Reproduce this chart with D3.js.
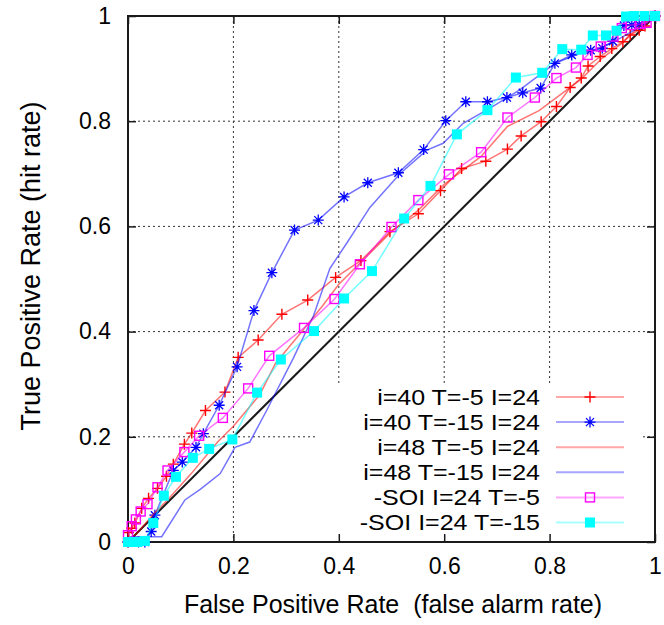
<!DOCTYPE html>
<html><head><meta charset="utf-8">
<script src="https://cdn.jsdelivr.net/npm/d3@7"></script>
<style>
body{margin:0;background:#fff}
svg{display:block}
text{font-family:"Liberation Sans",Arial,Helvetica,sans-serif;fill:#000;white-space:pre}
</style>
</head><body>
<svg id="chart" width="664" height="625"></svg>
<script>
// ---------- data ----------
const tickValues = [0, 0.2, 0.4, 0.6, 0.8, 1];
const tickLabels = ["0", "0.2", "0.4", "0.6", "0.8", "1"];
const gridValues = [0.2, 0.4, 0.6, 0.8];
const xTitle = "False Positive Rate  (false alarm rate)";
const yTitle = "True Positive Rate (hit rate)";
const seriesNames = ["i=40 T=-5 I=24", "i=40 T=-15 I=24", "i=48 T=-5 I=24", "i=48 T=-15 I=24", "-SOI I=24 T=-5", "-SOI I=24 T=-15"];
const seriesColors = ["#ff0000", "#0000ff", "#ff0000", "#0000ff", "#ff00ff", "#00ffff"];
const seriesMarkers = ["plus", "star", "none", "none", "square", "filled"];

const i40T5 = [[0,0],[0.001,0.018],[0.007,0.026],[0.013,0.036],[0.026,0.064],[0.039,0.083],[0.056,0.102],[0.073,0.125],[0.086,0.148],[0.107,0.186],[0.121,0.207],[0.147,0.250],[0.184,0.285],[0.209,0.351],[0.247,0.384],[0.292,0.433],[0.341,0.460],[0.394,0.503],[0.442,0.535],[0.497,0.590],[0.551,0.624],[0.593,0.668],[0.633,0.710],[0.679,0.724],[0.720,0.747],[0.746,0.772],[0.784,0.799],[0.813,0.828],[0.839,0.864],[0.860,0.882],[0.873,0.905],[0.896,0.923],[0.918,0.938],[0.939,0.951],[0.953,0.964],[0.970,0.973],[0.981,0.981],[1,1]];
const i40T15 = [[0,0],[0.02,0.0],[0.032,0.0],[0.044,0.020],[0.051,0.051],[0.086,0.136],[0.103,0.152],[0.129,0.180],[0.143,0.206],[0.173,0.260],[0.207,0.333],[0.239,0.440],[0.273,0.512],[0.316,0.593],[0.361,0.612],[0.410,0.656],[0.455,0.683],[0.513,0.702],[0.561,0.746],[0.603,0.801],[0.641,0.837],[0.682,0.837],[0.719,0.845],[0.749,0.854],[0.783,0.863],[0.810,0.910],[0.842,0.926],[0.878,0.935],[0.900,0.939],[0.920,0.952],[0.941,0.982],[0.956,0.983],[0.970,0.984],[1,1]];
const i48T5 = [[0,0],[0.02,0.02],[0.05,0.055],[0.075,0.08],[0.12,0.13],[0.17,0.19],[0.2,0.22],[0.25,0.28],[0.28,0.34],[0.33,0.40],[0.37,0.45],[0.40,0.49],[0.45,0.54],[0.50,0.59],[0.55,0.63],[0.60,0.68],[0.67,0.733],[0.72,0.79],[0.78,0.82],[0.82,0.85],[0.86,0.88],[0.90,0.92],[0.94,0.95],[0.97,0.98],[1,1]];
const i48T15 = [[0,0],[0.005,0.01],[0.064,0.01],[0.108,0.08],[0.137,0.10],[0.175,0.13],[0.203,0.18],[0.231,0.19],[0.263,0.25],[0.314,0.35],[0.352,0.43],[0.383,0.52],[0.415,0.568],[0.459,0.636],[0.516,0.70],[0.567,0.745],[0.598,0.758],[0.636,0.796],[0.687,0.825],[0.744,0.86],[0.81,0.91],[0.858,0.929],[0.889,0.935],[0.934,0.958],[0.984,0.986],[1,1]];
const soiT5 = [[0,0.013],[0.007,0.030],[0.015,0.043],[0.024,0.058],[0.037,0.072],[0.056,0.104],[0.075,0.136],[0.107,0.171],[0.135,0.202],[0.180,0.236],[0.228,0.292],[0.268,0.354],[0.334,0.407],[0.392,0.462],[0.440,0.528],[0.500,0.599],[0.551,0.650],[0.609,0.699],[0.670,0.741],[0.720,0.807],[0.772,0.845],[0.813,0.882],[0.850,0.902],[0.872,0.926],[0.897,0.942],[0.921,0.961],[0.937,0.977],[0.954,0.983],[0.972,0.985],[0.984,0.987],[1,1]];
const soiT15 = [[0,0],[0.004,0.0],[0.017,0.0],[0.032,0.002],[0.048,0.036],[0.068,0.088],[0.091,0.124],[0.123,0.160],[0.154,0.177],[0.198,0.195],[0.245,0.284],[0.290,0.347],[0.353,0.401],[0.410,0.463],[0.463,0.515],[0.524,0.615],[0.574,0.677],[0.624,0.775],[0.682,0.821],[0.736,0.883],[0.786,0.892],[0.824,0.937],[0.860,0.936],[0.882,0.963],[0.907,0.963],[0.927,0.972],[0.945,0.999],[0.96,1],[0.98,1],[1,1]];
const diagonal = [[0,0],[1,1]];

const seriesData = [i40T5, i40T15, i48T5, i48T15, soiT5, soiT15];

// ---------- layout ----------
const L = 128, R = 655, T = 16, B = 542;
const x = d3.scaleLinear().domain([0, 1]).range([L, R]);
const y = d3.scaleLinear().domain([0, 1]).range([B, T]);
const svg = d3.select("#chart");
const ink = "#1a1a1a";

// grid
const grid = svg.append("g").attr("stroke", "#333").attr("stroke-width", 1).attr("stroke-dasharray", "2,3");
gridValues.forEach(v => {
  grid.append("line").attr("x1", x(v)).attr("x2", x(v)).attr("y1", T).attr("y2", B);
  grid.append("line").attr("x1", L).attr("x2", R).attr("y1", y(v)).attr("y2", y(v));
});

// legend background (opaque key)
svg.append("rect").attr("x", 315).attr("y", 384).attr("width", 326).attr("height", B - 384 - 1).attr("fill", "#fff");

// axes (inward ticks, mirrored)
function styleAxis(g) {
  g.select(".domain").remove();
  g.selectAll(".tick line").attr("stroke", ink).attr("stroke-width", 1.5);
  g.selectAll(".tick text").attr("font-size", 23).attr("fill", "#000")
    .attr("font-family", '"Liberation Sans",Arial,sans-serif');
}
const fmt = (d, i) => tickLabels[i];
svg.append("g").attr("transform", `translate(0,${B})`)
  .call(d3.axisBottom(x).tickValues(tickValues).tickFormat(fmt).tickSize(-8).tickPadding(16)).call(styleAxis);
svg.append("g").attr("transform", `translate(${L},0)`)
  .call(d3.axisLeft(y).tickValues(tickValues).tickFormat(fmt).tickSize(-8).tickPadding(17)).call(styleAxis);
svg.append("g").attr("transform", `translate(0,${T})`)
  .call(d3.axisTop(x).tickValues(tickValues).tickFormat("").tickSize(-8)).call(styleAxis);
svg.append("g").attr("transform", `translate(${R},0)`)
  .call(d3.axisRight(y).tickValues(tickValues).tickFormat("").tickSize(-8)).call(styleAxis);

// border
svg.append("rect").attr("x", L).attr("y", T).attr("width", R - L).attr("height", B - T)
  .attr("fill", "none").attr("stroke", ink).attr("stroke-width", 2);

// diagonal
const line = d3.line().x(d => x(d[0])).y(d => y(d[1]));
svg.append("path").datum(diagonal).attr("d", line).attr("fill", "none").attr("stroke", ink).attr("stroke-width", 2);

// marker drawing
function marker(g, type, color, cx, cy) {
  if (type === "plus") {
    g.append("path").attr("d", `M${cx-5.5},${cy}H${cx+5.5}M${cx},${cy-5.5}V${cy+5.5}`)
      .attr("stroke", color).attr("stroke-width", 1.4).attr("fill", "none");
  } else if (type === "star") {
    g.append("path").attr("d", `M${cx-5.5},${cy}H${cx+5.5}M${cx},${cy-5.5}V${cy+5.5}M${cx-4},${cy-4}L${cx+4},${cy+4}M${cx-4},${cy+4}L${cx+4},${cy-4}`)
      .attr("stroke", color).attr("stroke-width", 1.3).attr("fill", "none");
  } else if (type === "square") {
    g.append("rect").attr("x", cx-4.5).attr("y", cy-4.5).attr("width", 9).attr("height", 9)
      .attr("stroke", color).attr("stroke-width", 1.4).attr("fill", "none");
  } else if (type === "filled") {
    g.append("rect").attr("x", cx-5).attr("y", cy-5).attr("width", 10).attr("height", 10)
      .attr("fill", color);
  }
}

// series
const plotG = svg.append("g");
seriesData.forEach((data, i) => {
  const g = plotG.append("g");
  g.append("path").datum(data).attr("d", line).attr("fill", "none")
    .attr("stroke", seriesColors[i]).attr("stroke-opacity", 0.55).attr("stroke-width", 1.5);
  if (seriesMarkers[i] !== "none") {
    data.forEach(d => marker(g, seriesMarkers[i], seriesColors[i], x(d[0]), y(d[1])));
  }
});

// legend (glyphs slightly wide, as in the reference)
const leg = svg.append("g");
seriesNames.forEach((name, i) => {
  const yy = 397 + i * 25.1;
  const t = leg.append("text").attr("x", 540).attr("y", yy).attr("dy", "0.35em").attr("text-anchor", "end")
    .attr("font-size", 25).text(name);
  const w = t.node().getComputedTextLength();
  t.attr("font-size", 22).attr("textLength", w).attr("lengthAdjust", "spacingAndGlyphs");
  leg.append("line").attr("x1", 556).attr("x2", 624).attr("y1", yy).attr("y2", yy)
    .attr("stroke", seriesColors[i]).attr("stroke-opacity", 0.35).attr("stroke-width", 2);
  marker(leg, seriesMarkers[i], seriesColors[i], 590, yy);
});

// axis titles
svg.append("text").attr("x", 393).attr("y", 613).attr("text-anchor", "middle")
  .attr("font-size", 25).text(xTitle);
svg.append("text").attr("transform", `translate(40,266) rotate(-90)`).attr("text-anchor", "middle")
  .attr("font-size", 27).text(yTitle);
</script>
</body></html>
